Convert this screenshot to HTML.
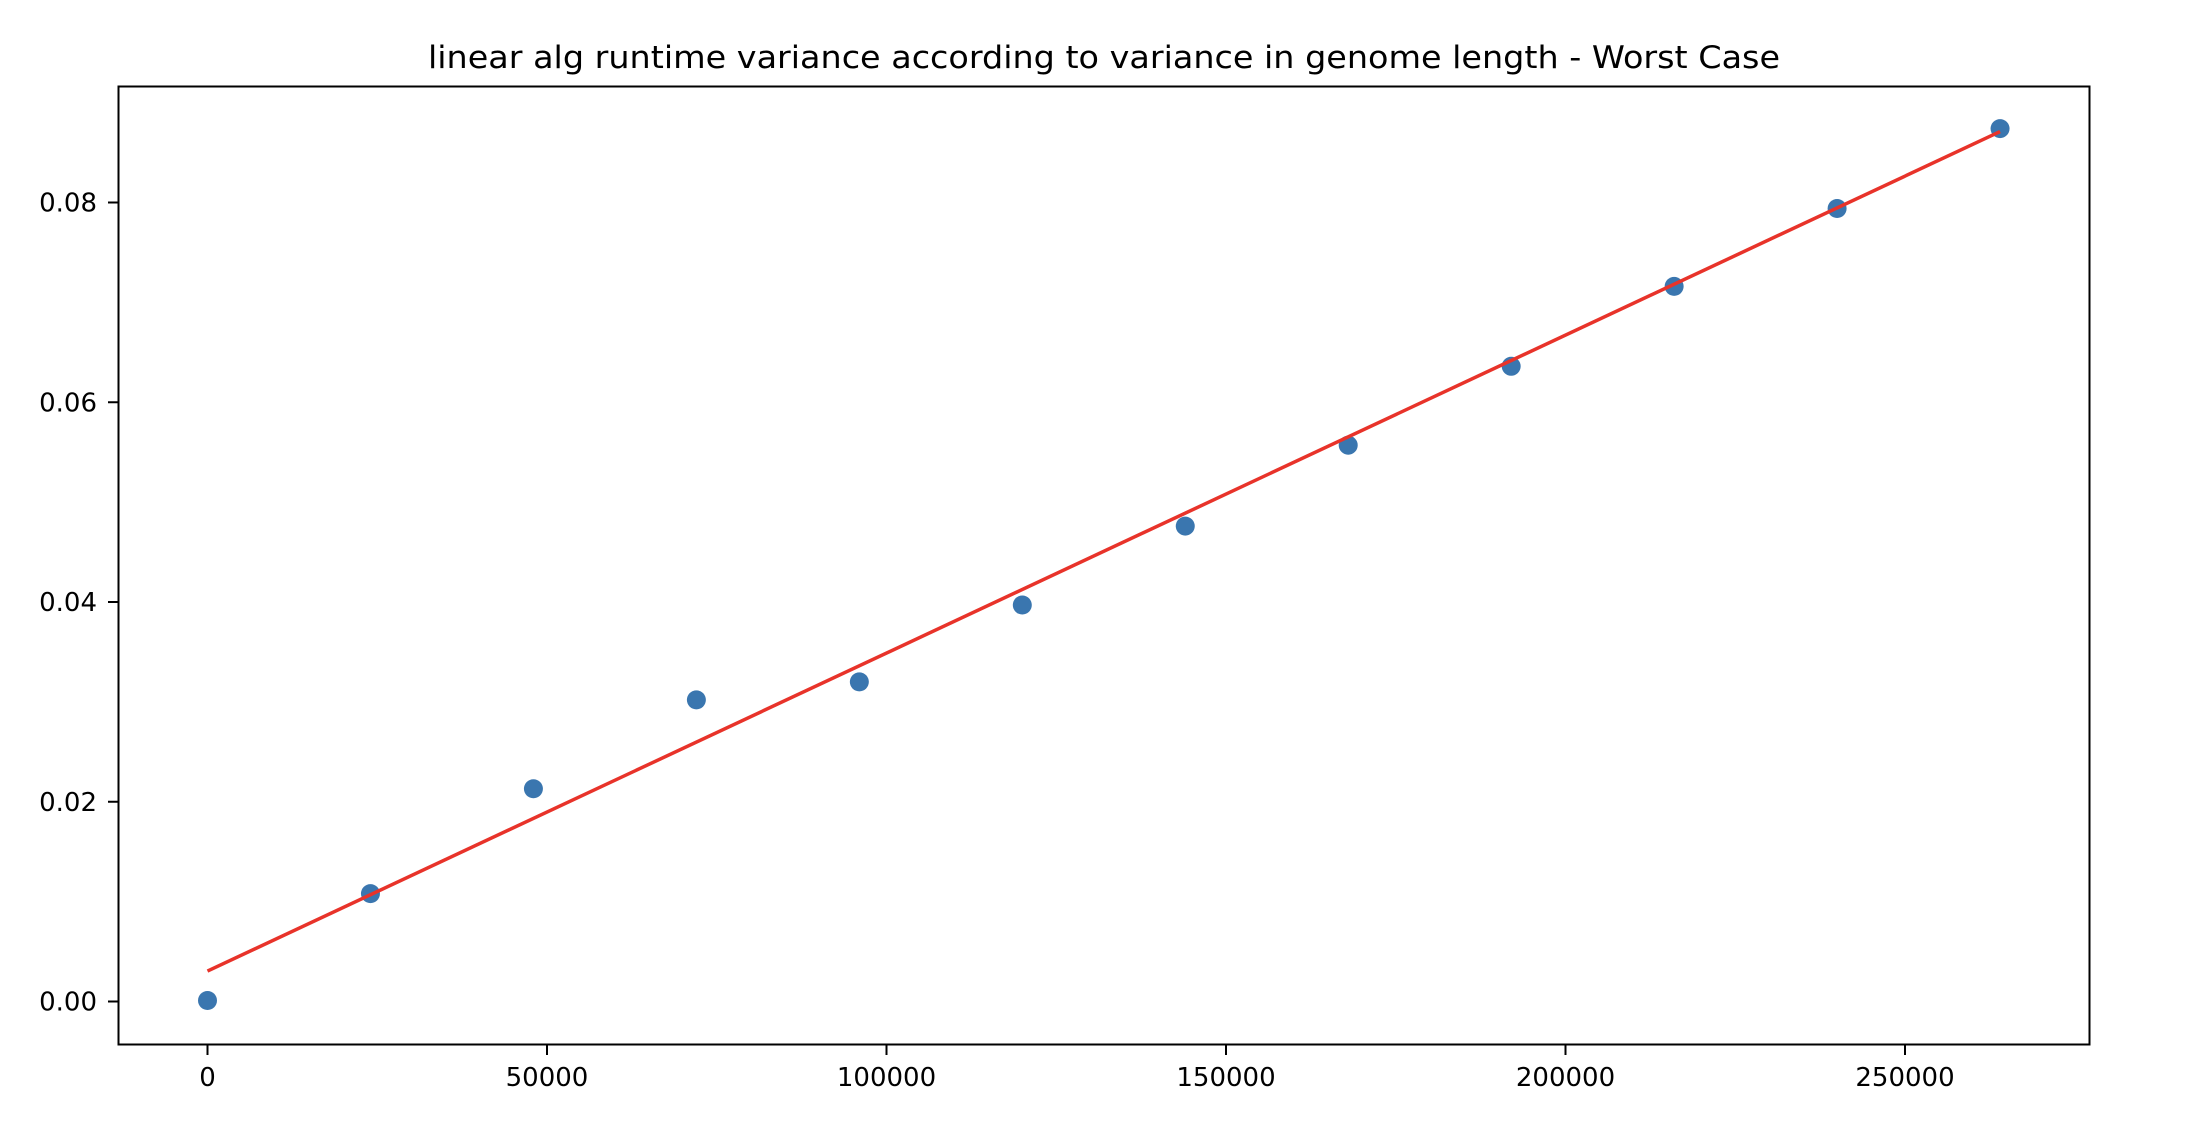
<!DOCTYPE html>
<html><head><meta charset="utf-8"><style>
body{margin:0;background:#fff}
svg{display:block;font-family:"DejaVu Sans","Liberation Sans",sans-serif}
</style></head><body>
<svg id="chart" width="2200" height="1142" viewBox="0 0 2200 1142">
<rect width="2200" height="1142" fill="#fff"/>
<text x="1104" y="68" text-anchor="middle" font-size="31" textLength="1352" lengthAdjust="spacingAndGlyphs">linear alg runtime variance according to variance in genome length - Worst Case</text>
<g id="marks"></g>
<rect x="118.5" y="86.5" width="1971" height="958" fill="none" stroke="#000" stroke-width="2"/>
<g id="axes"></g>
</svg>
<script>
const xValues=[0,24000,48000,72000,96000,120000,144000,168000,192000,216000,240000,264000];
const yValues=[0.0001,0.0108,0.0213,0.0302,0.0320,0.0397,0.0476,0.0557,0.0636,0.0716,0.0794,0.0874];
const fitStart=[0,0.00305];
const fitEnd=[264000,0.0871];
const xTicks=[0,50000,100000,150000,200000,250000];
const yTicks=[0,0.02,0.04,0.06,0.08];
const yTickLabels=["0.00","0.02","0.04","0.06","0.08"];
const NS="http://www.w3.org/2000/svg";
function sx(v){return 207.5+v*(1697.5/250000);}
function sy(v){return 1001.5-v*(799/0.08);}
const marks=document.getElementById('marks'),axes=document.getElementById('axes');
function mk(tag,attrs,parent){const e=document.createElementNS(NS,tag);for(const k in attrs)e.setAttribute(k,attrs[k]);parent.appendChild(e);return e;}
xValues.forEach((x,i)=>{
 const c=mk('circle',{cx:sx(x),cy:sy(yValues[i]),r:9.5,fill:'#3a76af'},marks);
 
 
});
const ln=mk('line',{x1:sx(fitStart[0]),y1:sy(fitStart[1]),x2:sx(fitEnd[0]),y2:sy(fitEnd[1]),stroke:'#e8332a','stroke-width':3.5},marks);


xTicks.forEach(t=>{
 const x=sx(t);
 const tk=mk('line',{x1:x,y1:1045,x2:x,y2:1055,stroke:'#000','stroke-width':2},axes);
 
 
 const tx=mk('text',{x:x,y:1086,'text-anchor':'middle','font-size':26},axes);
 tx.textContent=String(t);
 
 
});
yTicks.forEach((t,i)=>{
 const y=sy(t);
 const tk=mk('line',{x1:108,y1:y,x2:118,y2:y,stroke:'#000','stroke-width':2},axes);
 
 
 const tx=mk('text',{x:97,y:y+9,'text-anchor':'end','font-size':26},axes);
 tx.textContent=yTickLabels[i];
 
 
});
</script>
</body></html>
